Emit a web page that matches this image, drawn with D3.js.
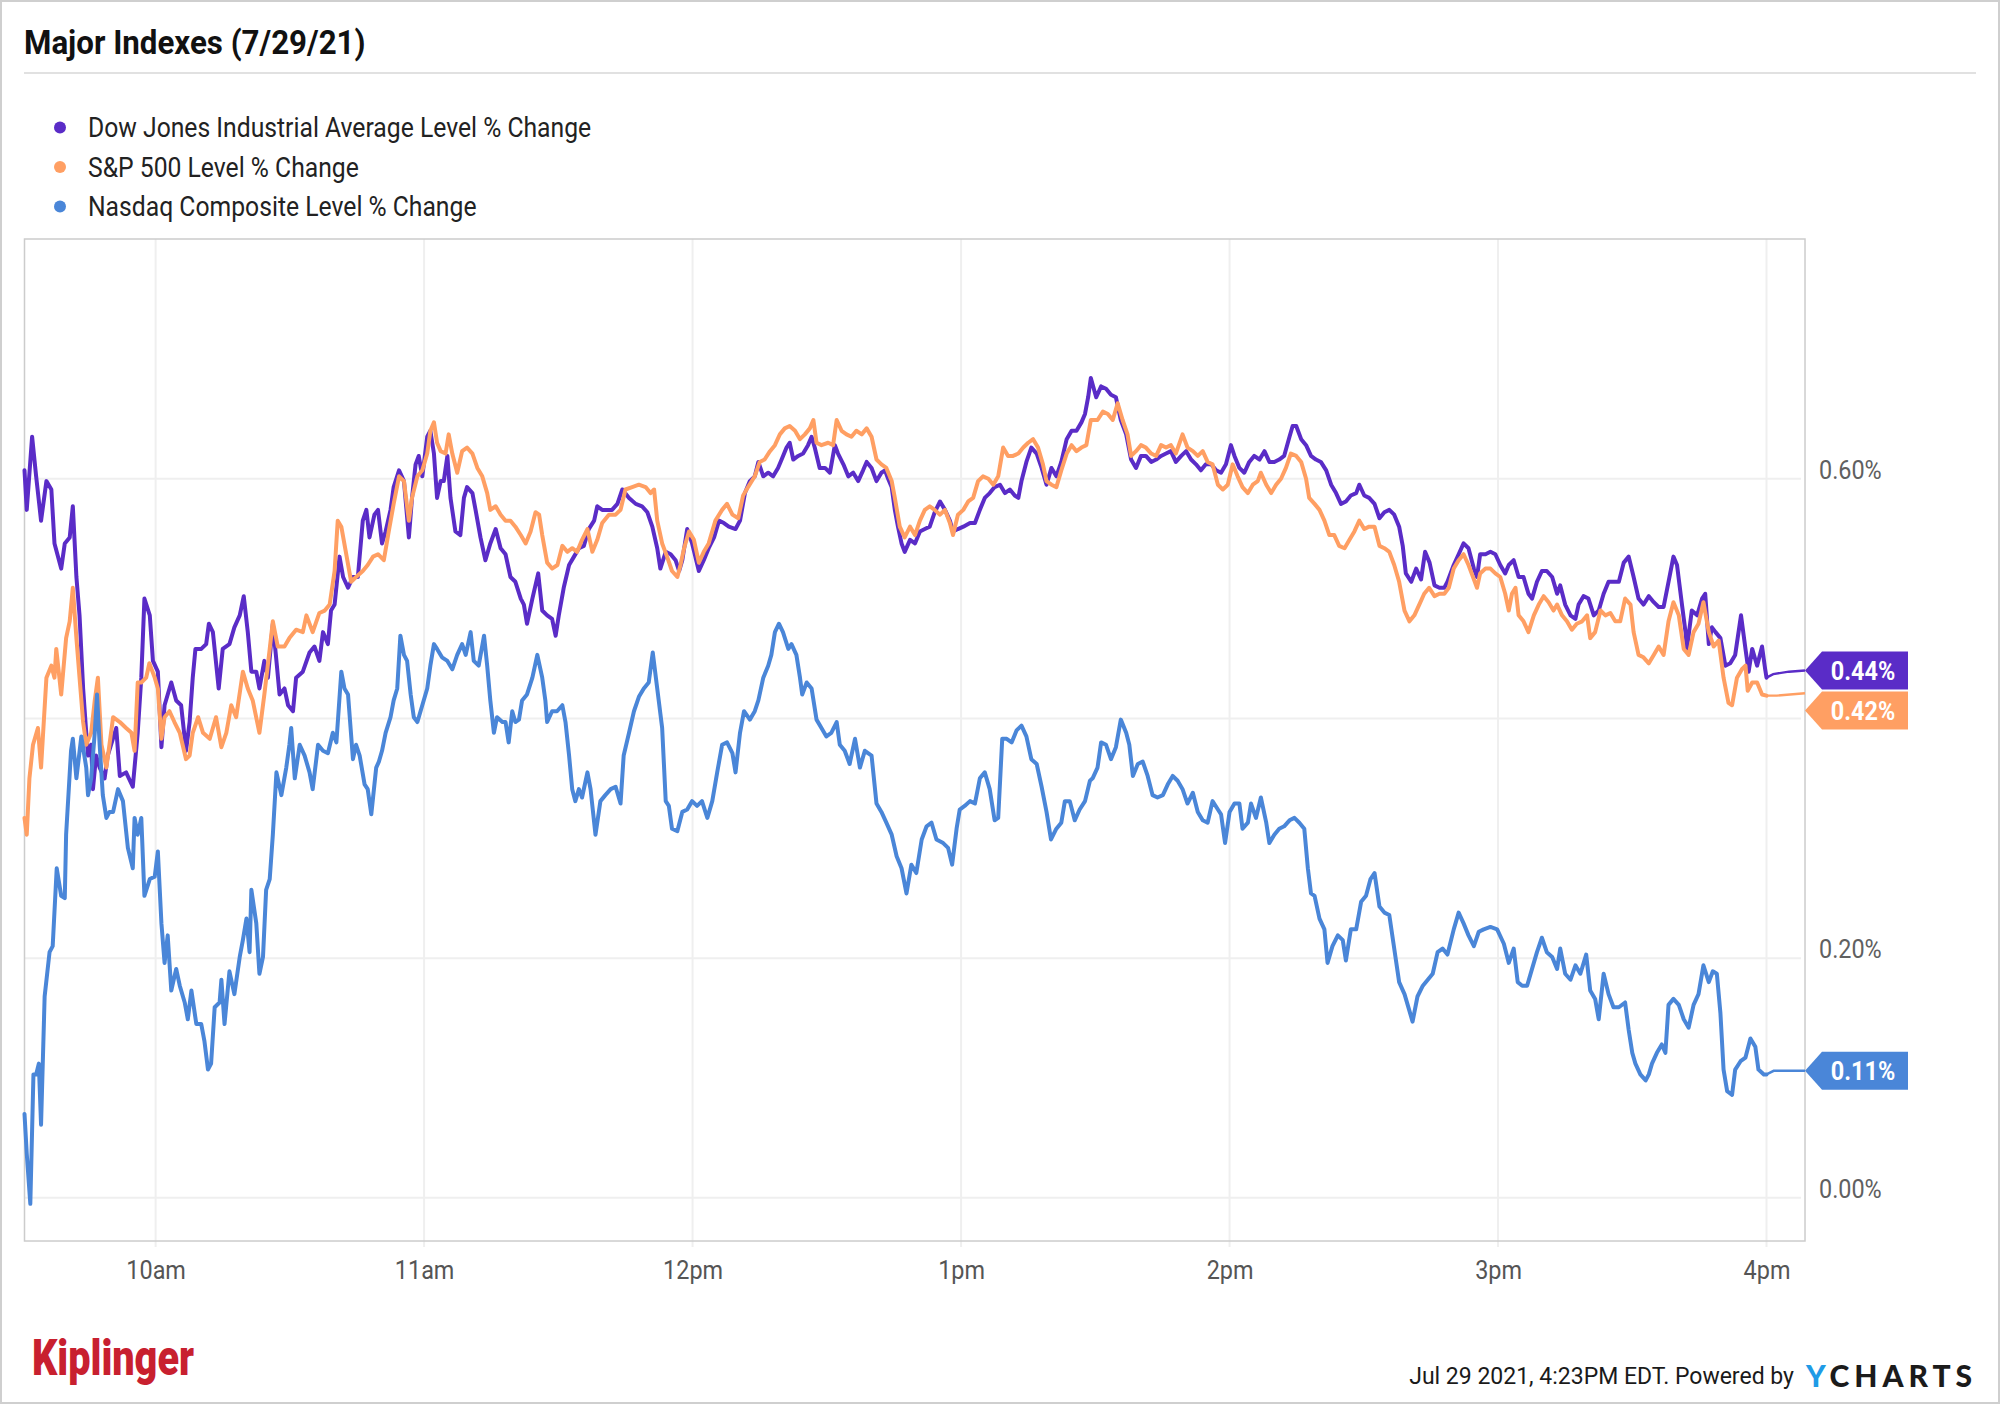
<!DOCTYPE html>
<html><head><meta charset="utf-8">
<script src="https://cdn.jsdelivr.net/npm/d3@7"></script>
<style>
html,body{margin:0;padding:0;background:#fff;}
svg{display:block;font-family:Roboto,"Noto Sans",sans-serif;}
</style></head><body>
<svg id="chart" width="2000" height="1404"></svg>
<script>
// ---------- DATA ----------
const chartTitle = "Major Indexes (7/29/21)";
const seriesNames = ["Dow Jones Industrial Average Level % Change","S&P 500 Level % Change","Nasdaq Composite Level % Change"];
const hourTickMinutes = [30, 90, 150, 210, 270, 330, 390];   // minutes after 9:30
const hourTickLabels = ["10am","11am","12pm","1pm","2pm","3pm","4pm"];
const yGridValues = [0, 0.2, 0.4, 0.6];
const yLabelValues = [0, 0.2, 0.6];
const closeMinute = 390;
const footerText = "Jul 29 2021, 4:23PM EDT. Powered by";

const dowMinutes = [0.7,1.2,2.4,3.3,4.4,5.6,6.7,7.4,8.9,9.7,10.8,11.5,12.3,13.0,13.8,14.5,14.9,15.6,16.0,16.7,17.5,18.6,19.3,21.2,22.0,23.4,24.9,26.0,26.8,27.5,28.7,29.4,30.5,31.3,32.0,33.5,34.6,35.7,36.8,37.6,38.3,38.9,40.2,41.3,41.9,42.8,44.1,45.0,46.5,47.6,48.8,49.7,50.6,51.4,52.5,53.2,54.3,55.1,56.2,57.0,57.7,58.8,59.6,60.7,61.4,62.9,64.4,65.5,66.6,67.4,68.5,69.2,70.0,71.1,71.9,73.0,74.1,75.2,76.3,77.1,77.8,78.9,79.7,
80.6,81.4,82.5,83.2,84.4,85.5,86.6,87.3,88.1,88.8,89.6,90.7,91.4,92.2,92.9,93.7,94.4,95.2,95.9,97.0,98.1,98.9,99.6,100.8,101.5,102.6,103.7,104.8,106.0,107.1,108.2,109.3,110.4,111.6,112.3,113.0,114.2,115.5,116.4,117.5,118.6,119.4,120.1,121.2,122.4,123.5,124.6,125.7,126.8,128.0,128.7,129.8,130.9,132.0,133.2,134.3,135.8,137.3,138.7,139.9,141.0,142.1,142.8,144.0,145.1,146.2,147.0,147.7,148.8,149.9,151.4,152.5,153.6,154.8,155.9,157.0,158.1,159.6,
160.6,161.7,162.8,163.9,164.7,165.8,166.9,168.0,169.1,169.9,171.0,171.7,172.5,173.6,174.7,175.8,176.6,177.3,178.4,179.6,180.7,181.8,182.5,183.7,184.8,185.9,187.0,188.1,188.9,190.0,191.1,192.2,193.0,193.7,194.5,195.2,195.9,196.7,197.4,198.6,199.7,200.8,201.9,203.0,204.1,205.3,206.4,207.5,208.2,209.3,210.5,212.0,213.1,214.2,215.3,216.4,217.5,218.7,219.8,220.9,222.0,222.8,223.5,224.6,225.7,226.9,228.0,229.1,230.2,231.3,232.4,233.6,234.7,235.8,236.9,237.7,238.4,239.0,
240.2,241.3,242.4,243.5,244.6,245.7,246.9,248.0,249.1,250.2,251.3,252.5,253.6,254.7,255.8,256.9,258.0,259.2,260.3,261.4,262.5,263.6,264.7,265.9,267.0,268.1,269.2,270.3,271.1,272.2,273.3,274.4,275.5,276.7,277.8,278.9,280.0,281.1,282.2,283.4,284.1,284.9,286.0,287.1,288.2,289.3,290.4,291.6,292.7,293.8,294.9,296.0,297.1,298.3,299.0,300.1,301.2,302.4,303.5,304.6,305.7,306.8,307.9,308.7,309.4,310.6,311.7,312.8,313.7,314.7,315.8,316.9,318.0,318.7,
320.1,321.2,322.3,323.4,324.6,325.3,326.0,327.2,328.3,329.4,330.5,331.6,332.4,333.5,334.6,335.7,336.8,337.6,338.7,339.8,340.9,342.1,343.2,343.9,345.0,346.2,347.3,348.0,349.1,350.2,351.4,352.5,353.6,354.7,355.8,357.0,358.1,359.2,360.3,361.4,362.5,363.7,364.8,365.9,367.0,368.1,369.2,370.0,371.1,371.9,372.2,373.3,374.5,375.6,376.3,377.1,377.8,378.6,379.7,380.8,381.9,383.0,384.3,385.3,386.0,386.8,387.9,389.0,389.7,390.0,391.5,395.0,398.6];
const dowValues = [0.607,0.574,0.635,0.602,0.565,0.598,0.591,0.546,0.525,0.546,0.551,0.577,0.518,0.486,0.425,0.388,0.369,0.378,0.341,0.369,0.359,0.350,0.369,0.392,0.352,0.355,0.343,0.388,0.434,0.500,0.486,0.448,0.439,0.376,0.411,0.430,0.415,0.411,0.373,0.397,0.434,0.458,0.458,0.462,0.479,0.472,0.425,0.458,0.462,0.476,0.486,0.502,0.472,0.439,0.439,0.425,0.448,0.434,0.479,0.448,0.420,0.425,0.411,0.406,0.434,0.439,0.455,0.460,0.448,0.472,0.462,0.490,0.495,0.535,0.518,0.509,0.518,0.518,0.565,0.574,0.551,0.570,0.574,
0.546,0.556,0.574,0.593,0.607,0.598,0.551,0.584,0.612,0.619,0.602,0.635,0.640,0.621,0.584,0.598,0.598,0.619,0.584,0.556,0.553,0.584,0.593,0.588,0.574,0.551,0.532,0.546,0.558,0.542,0.537,0.518,0.514,0.500,0.495,0.479,0.500,0.521,0.490,0.486,0.483,0.469,0.486,0.509,0.528,0.535,0.542,0.544,0.558,0.565,0.577,0.574,0.574,0.574,0.579,0.591,0.584,0.579,0.577,0.572,0.560,0.542,0.525,0.539,0.537,0.532,0.523,0.532,0.558,0.546,0.523,0.532,0.542,0.551,0.565,0.563,0.560,0.558,
0.565,0.588,0.598,0.602,0.614,0.602,0.605,0.602,0.609,0.616,0.626,0.630,0.616,0.619,0.621,0.628,0.635,0.626,0.609,0.609,0.605,0.628,0.621,0.612,0.602,0.605,0.598,0.607,0.614,0.609,0.598,0.605,0.607,0.600,0.593,0.574,0.560,0.546,0.539,0.549,0.546,0.556,0.558,0.560,0.572,0.581,0.574,0.565,0.556,0.558,0.560,0.563,0.563,0.574,0.584,0.588,0.593,0.595,0.588,0.591,0.586,0.584,0.598,0.614,0.626,0.621,0.609,0.595,0.609,0.602,0.614,0.633,0.640,0.640,0.647,0.654,0.668,0.684,
0.668,0.677,0.675,0.670,0.668,0.649,0.637,0.616,0.609,0.619,0.619,0.614,0.616,0.619,0.621,0.623,0.614,0.619,0.623,0.616,0.612,0.607,0.612,0.612,0.607,0.605,0.612,0.628,0.619,0.609,0.605,0.614,0.619,0.616,0.623,0.614,0.614,0.616,0.619,0.635,0.644,0.644,0.633,0.628,0.619,0.616,0.614,0.607,0.595,0.588,0.579,0.581,0.586,0.588,0.595,0.586,0.584,0.579,0.567,0.572,0.574,0.570,0.560,0.544,0.521,0.514,0.525,0.516,0.539,0.530,0.511,0.509,0.509,0.514,
0.528,0.537,0.546,0.542,0.525,0.518,0.537,0.537,0.539,0.537,0.528,0.521,0.528,0.532,0.518,0.518,0.504,0.500,0.514,0.523,0.523,0.518,0.504,0.511,0.495,0.486,0.483,0.495,0.502,0.500,0.486,0.490,0.504,0.514,0.514,0.514,0.530,0.535,0.518,0.500,0.495,0.502,0.497,0.493,0.493,0.514,0.535,0.528,0.495,0.472,0.458,0.490,0.486,0.500,0.504,0.462,0.476,0.472,0.467,0.444,0.446,0.453,0.486,0.458,0.439,0.458,0.444,0.460,0.441,0.434,0.437,0.439,0.440];

const spMinutes = [0.7,1.2,1.8,2.6,3.7,4.4,5.6,6.7,7.4,7.8,8.9,10.0,10.8,11.5,12.3,13.0,13.8,14.5,15.6,16.4,17.1,17.9,19.0,20.5,22.0,23.4,24.6,25.3,26.0,26.8,27.9,28.6,29.8,30.5,31.3,32.0,33.1,34.2,35.4,36.8,37.6,38.3,39.5,40.6,42.1,43.5,44.7,45.8,46.9,48.0,49.5,50.6,51.7,53.2,54.3,55.5,56.2,57.3,58.8,59.9,61.4,62.9,63.7,65.1,66.6,67.8,68.9,70.0,70.7,71.5,72.6,73.7,74.8,76.3,77.4,78.6,79.7,
81.0,82.1,83.2,84.4,85.5,86.6,87.3,88.5,89.6,90.7,91.4,92.2,92.9,93.7,94.8,95.5,96.3,97.4,98.5,99.6,100.8,101.9,103.0,104.1,104.8,106.0,107.1,108.2,109.3,110.4,111.6,112.7,113.8,114.9,115.7,116.4,117.5,118.6,119.8,120.9,122.0,123.1,124.2,125.3,126.5,127.6,128.7,129.8,131.3,132.8,133.9,135.0,136.5,138.0,139.5,140.6,141.4,142.1,143.2,144.3,145.4,146.6,147.3,148.1,149.2,150.3,151.4,152.5,153.6,155.1,156.6,157.7,158.9,
160.2,161.3,162.4,163.9,165.0,166.1,167.3,168.4,169.5,170.6,171.7,172.9,174.0,175.1,176.2,177.0,177.7,178.8,180.3,181.4,182.2,183.3,184.4,185.5,186.6,187.8,188.9,190.0,191.1,192.2,193.3,194.5,195.2,196.3,197.4,198.6,199.7,200.8,201.9,203.0,204.1,205.3,206.4,207.5,208.2,209.3,210.5,211.6,212.7,213.8,214.9,216.1,217.2,218.3,219.4,220.5,221.6,222.8,223.9,225.0,226.1,227.2,228.3,229.1,230.2,231.3,232.4,233.6,234.7,235.8,236.9,238.0,239.0,
240.5,241.7,242.8,243.9,245.0,246.1,247.2,248.0,249.1,250.2,251.3,252.5,253.6,254.7,255.8,256.9,258.0,259.5,260.6,261.8,262.9,264.0,265.1,266.2,267.4,268.5,269.6,270.7,271.8,272.9,274.1,275.2,276.3,277.0,278.2,279.3,280.4,281.5,282.6,283.7,284.9,286.0,287.1,287.8,289.0,290.1,291.2,292.3,293.4,294.5,295.7,296.8,297.9,299.0,300.1,301.2,302.4,303.5,304.6,305.7,306.8,307.9,309.1,310.2,311.3,312.4,313.5,314.6,315.8,316.9,318.0,
319.0,320.1,321.2,322.3,323.4,324.6,325.3,326.0,327.2,328.3,329.4,330.5,331.6,332.4,333.1,333.9,334.6,335.7,336.8,338.0,339.1,340.2,341.3,342.4,343.2,344.3,345.4,346.5,347.6,348.8,349.9,350.6,351.7,352.9,354.0,355.1,356.2,357.3,358.4,359.6,360.3,361.4,362.5,363.7,364.8,365.9,367.0,368.1,369.2,370.4,371.5,372.6,373.7,374.8,375.9,377.1,378.2,379.3,380.4,381.5,382.3,383.4,384.5,385.3,385.8,386.8,387.9,389.0,390.0,392.3,398.6];
const spValues = [0.317,0.303,0.350,0.378,0.392,0.359,0.434,0.444,0.434,0.458,0.420,0.467,0.481,0.509,0.467,0.434,0.397,0.378,0.388,0.415,0.434,0.378,0.359,0.401,0.397,0.392,0.388,0.373,0.430,0.430,0.434,0.446,0.434,0.425,0.383,0.401,0.406,0.397,0.388,0.366,0.369,0.388,0.401,0.388,0.383,0.401,0.376,0.388,0.411,0.401,0.439,0.425,0.415,0.388,0.420,0.458,0.481,0.460,0.460,0.467,0.474,0.472,0.486,0.472,0.488,0.490,0.495,0.523,0.565,0.560,0.537,0.514,0.518,0.523,0.528,0.535,0.537,
0.532,0.556,0.579,0.602,0.598,0.565,0.584,0.602,0.607,0.621,0.640,0.647,0.630,0.623,0.621,0.637,0.621,0.605,0.623,0.626,0.621,0.609,0.602,0.588,0.574,0.577,0.570,0.565,0.565,0.560,0.553,0.546,0.556,0.572,0.570,0.553,0.530,0.525,0.528,0.544,0.539,0.542,0.539,0.549,0.558,0.539,0.549,0.563,0.570,0.570,0.574,0.591,0.593,0.595,0.593,0.588,0.591,0.565,0.546,0.535,0.523,0.518,0.528,0.542,0.556,0.549,0.530,0.539,0.546,0.565,0.574,0.579,0.570,
0.567,0.586,0.593,0.602,0.614,0.616,0.623,0.628,0.637,0.642,0.644,0.640,0.633,0.637,0.642,0.649,0.630,0.628,0.630,0.628,0.649,0.640,0.637,0.635,0.640,0.637,0.642,0.635,0.616,0.612,0.609,0.598,0.584,0.560,0.551,0.560,0.553,0.565,0.574,0.577,0.574,0.570,0.574,0.563,0.553,0.570,0.574,0.581,0.584,0.598,0.602,0.600,0.595,0.602,0.626,0.619,0.619,0.621,0.626,0.630,0.633,0.626,0.612,0.598,0.595,0.593,0.607,0.621,0.628,0.623,0.626,0.628,0.649,
0.649,0.656,0.654,0.649,0.663,0.649,0.637,0.619,0.623,0.628,0.626,0.621,0.619,0.628,0.626,0.628,0.621,0.637,0.626,0.623,0.619,0.623,0.614,0.612,0.595,0.591,0.595,0.612,0.602,0.593,0.588,0.595,0.598,0.605,0.595,0.588,0.595,0.600,0.609,0.621,0.619,0.614,0.600,0.584,0.579,0.574,0.565,0.553,0.553,0.544,0.542,0.549,0.556,0.565,0.558,0.560,0.560,0.544,0.542,0.539,0.528,0.514,0.490,0.481,0.486,0.495,0.504,0.509,0.502,0.504,0.504,
0.509,0.525,0.532,0.537,0.528,0.516,0.509,0.521,0.525,0.525,0.521,0.518,0.504,0.490,0.504,0.509,0.486,0.481,0.472,0.486,0.495,0.502,0.497,0.490,0.495,0.486,0.481,0.474,0.479,0.481,0.486,0.467,0.472,0.490,0.486,0.488,0.481,0.481,0.500,0.495,0.472,0.453,0.451,0.446,0.453,0.460,0.453,0.481,0.497,0.486,0.458,0.453,0.472,0.479,0.497,0.472,0.460,0.465,0.434,0.413,0.411,0.434,0.441,0.444,0.423,0.430,0.430,0.420,0.419,0.419,0.421];

const nasdaqMinutes = [0.7,1.2,2.0,2.7,3.3,3.9,4.4,5.2,6.3,7.0,7.9,8.9,9.7,10.0,11.1,11.5,12.3,13.4,14.5,14.9,15.6,16.4,16.9,17.5,18.2,19.0,19.7,20.5,21.6,22.7,23.8,24.9,25.3,26.0,26.8,27.5,28.7,29.8,30.5,31.3,32.0,32.7,33.5,34.6,35.4,36.5,37.2,38.0,39.1,40.2,40.9,41.7,42.4,43.2,44.3,44.7,45.4,46.5,47.6,48.8,49.5,50.3,51.0,51.4,52.5,53.2,54.0,54.7,55.5,56.2,57.0,58.1,59.2,59.9,60.3,61.1,62.2,63.3,64.4,65.1,66.3,67.4,68.5,69.6,70.4,71.5,72.2,73.0,74.1,74.8,75.6,76.7,77.4,78.2,79.3,
79.9,80.6,81.4,82.5,83.2,84.0,84.7,85.5,86.2,87.0,87.7,88.5,89.6,90.7,91.4,92.2,92.9,94.0,95.2,96.3,97.4,98.5,99.3,100.4,101.1,102.2,103.4,104.1,104.8,105.6,106.3,107.5,108.2,108.9,109.7,110.4,111.2,111.9,113.0,114.2,115.3,116.4,117.1,117.5,118.6,119.7,120.9,121.6,122.4,123.1,123.8,124.6,125.3,126.5,127.2,128.3,129.4,130.5,131.7,132.8,133.9,134.6,135.8,136.9,138.0,139.1,140.2,141.1,142.1,143.2,144.0,144.7,145.4,146.6,147.7,148.8,149.9,151.0,152.1,153.3,154.4,155.5,156.6,157.7,158.9,
159.6,160.6,161.5,162.8,163.9,164.7,165.8,166.9,167.6,168.4,169.3,170.2,171.4,172.1,173.2,174.0,174.5,175.5,176.6,177.7,178.8,179.9,181.0,182.2,182.9,184.0,185.1,186.3,187.4,188.5,190.0,191.1,192.2,193.3,194.5,195.6,196.7,197.8,198.9,200.0,201.2,202.3,203.4,204.5,206.0,207.1,208.0,209.0,209.7,210.8,212.0,213.1,214.2,215.3,216.4,217.5,218.3,219.2,220.2,221.3,222.4,223.5,224.6,225.7,226.9,228.0,229.1,230.1,231.3,232.4,233.2,234.3,235.4,236.5,237.7,238.8,
239.4,240.5,241.3,242.4,243.5,244.6,245.7,246.9,247.6,248.4,249.5,250.6,251.7,252.8,253.9,255.1,256.2,257.3,258.4,259.5,260.6,261.8,262.9,264.0,265.1,266.2,267.4,268.1,269.0,270.0,271.1,272.2,272.9,274.1,274.8,275.9,277.0,278.2,278.9,280.0,281.1,282.2,283.4,284.5,285.6,286.7,287.5,288.2,289.0,290.1,291.2,291.9,293.0,294.2,295.3,296.0,297.1,298.3,299.4,300.5,301.5,302.4,303.5,304.6,305.7,306.8,307.9,309.1,310.2,310.9,312.0,313.2,314.3,315.4,316.5,317.6,318.7,
320.1,321.2,322.3,323.4,324.6,325.7,326.8,328.3,329.8,331.3,332.4,333.5,334.4,335.4,336.5,337.6,338.7,339.8,340.9,342.1,343.2,343.9,345.0,346.2,347.3,348.4,349.7,350.6,351.7,352.5,353.6,354.7,355.8,357.0,358.4,359.2,360.0,360.7,361.8,363.0,363.7,364.4,365.5,366.6,367.4,368.1,369.2,370.4,371.5,372.6,373.7,374.8,375.9,377.1,378.0,378.9,379.7,380.4,381.2,382.3,383.0,384.2,385.3,386.4,387.5,388.2,389.4,390.0,391.6,398.6];
const nasdaqValues = [0.070,0.037,-0.005,0.103,0.103,0.112,0.061,0.168,0.205,0.210,0.275,0.252,0.250,0.303,0.373,0.383,0.350,0.385,0.359,0.336,0.350,0.388,0.420,0.378,0.336,0.317,0.322,0.322,0.341,0.331,0.292,0.275,0.317,0.303,0.317,0.252,0.266,0.268,0.289,0.229,0.196,0.219,0.173,0.191,0.177,0.163,0.149,0.173,0.145,0.145,0.131,0.107,0.112,0.159,0.163,0.182,0.145,0.189,0.170,0.201,0.215,0.233,0.205,0.257,0.229,0.187,0.201,0.257,0.266,0.303,0.355,0.336,0.359,0.378,0.392,0.350,0.378,0.369,0.355,0.341,0.378,0.373,0.371,0.388,0.380,0.439,0.425,0.420,0.366,0.378,0.369,0.345,0.341,0.320,0.359,
0.364,0.373,0.388,0.401,0.415,0.425,0.469,0.453,0.448,0.420,0.401,0.397,0.411,0.425,0.444,0.462,0.458,0.451,0.448,0.441,0.453,0.462,0.453,0.472,0.448,0.444,0.469,0.444,0.415,0.388,0.401,0.397,0.397,0.380,0.406,0.397,0.399,0.415,0.420,0.434,0.453,0.434,0.415,0.397,0.406,0.406,0.411,0.397,0.369,0.341,0.331,0.341,0.334,0.355,0.341,0.303,0.331,0.336,0.341,0.343,0.329,0.369,0.388,0.406,0.418,0.425,0.430,0.455,0.425,0.392,0.331,0.327,0.308,0.306,0.322,0.324,0.331,0.327,0.331,0.317,0.331,0.355,0.378,0.380,0.371,
0.355,0.388,0.406,0.399,0.406,0.415,0.434,0.444,0.453,0.472,0.479,0.472,0.458,0.462,0.453,0.434,0.420,0.430,0.425,0.399,0.392,0.385,0.388,0.397,0.378,0.373,0.362,0.383,0.359,0.373,0.369,0.329,0.322,0.313,0.303,0.285,0.275,0.254,0.278,0.271,0.299,0.310,0.313,0.299,0.296,0.292,0.278,0.308,0.324,0.327,0.331,0.329,0.350,0.355,0.341,0.315,0.317,0.383,0.383,0.380,0.390,0.394,0.385,0.366,0.362,0.343,0.322,0.299,0.308,0.313,0.331,0.331,0.315,0.324,0.331,0.348,
0.350,0.359,0.380,0.378,0.366,0.376,0.399,0.388,0.378,0.352,0.362,0.364,0.352,0.336,0.334,0.336,0.345,0.352,0.348,0.341,0.329,0.338,0.322,0.315,0.313,0.331,0.324,0.320,0.296,0.322,0.329,0.329,0.308,0.313,0.329,0.317,0.334,0.313,0.296,0.303,0.308,0.310,0.315,0.317,0.313,0.308,0.275,0.254,0.252,0.233,0.224,0.196,0.210,0.219,0.215,0.198,0.224,0.224,0.247,0.252,0.266,0.271,0.243,0.238,0.236,0.208,0.180,0.170,0.156,0.147,0.168,0.177,0.182,0.187,0.205,0.208,0.203,
0.224,0.238,0.229,0.219,0.210,0.222,0.224,0.226,0.224,0.212,0.196,0.208,0.180,0.177,0.177,0.191,0.205,0.217,0.205,0.201,0.191,0.208,0.187,0.182,0.194,0.187,0.203,0.173,0.166,0.149,0.187,0.170,0.159,0.159,0.163,0.140,0.121,0.112,0.103,0.098,0.103,0.112,0.121,0.128,0.121,0.161,0.166,0.161,0.149,0.142,0.161,0.170,0.194,0.180,0.189,0.187,0.154,0.107,0.089,0.086,0.107,0.114,0.117,0.133,0.126,0.107,0.103,0.103,0.106,0.106];

// ---------- STYLE ----------
const colors = ["#5a2cc7", "#ff9f63", "#4a86d8"];
const W = 2000, H = 1404;
const plot = {left: 24.5, right: 1805, top: 239, bottom: 1241};

const svg = d3.select("#chart");

// squeeze text horizontally to imitate a condensed face
function condense(sel, f) {
  sel.each(function(){
    const w = this.getComputedTextLength();
    d3.select(this).attr("textLength", w*f).attr("lengthAdjust","spacingAndGlyphs");
  });
}

// outer border
svg.append("rect").attr("x",1).attr("y",1).attr("width",W-2).attr("height",H-2)
  .attr("fill","#fff").attr("stroke","#cfcfcf").attr("stroke-width",2);

// title
svg.append("text").attr("x",24).attr("y",54).attr("font-size",34).attr("font-weight",700)
  .attr("fill","#111").text(chartTitle).call(condense, 0.92);
svg.append("line").attr("x1",24).attr("x2",1976).attr("y1",73).attr("y2",73)
  .attr("stroke","#e1e1e1").attr("stroke-width",2);

// legend
const legend = svg.append("g");
seriesNames.forEach((name,i)=>{
  const cy = 127.5 + i*39.5;
  legend.append("circle").attr("cx",60).attr("cy",cy).attr("r",6).attr("fill",colors[i]);
  legend.append("text").attr("x",88).attr("y",cy).attr("dy","0.36em").attr("font-size",27)
    .attr("fill","#222").text(name).call(condense, 0.915);
});

// scales
const x = d3.scaleLinear().domain([0.7, 398.6]).range([plot.left, plot.right]);
const y = d3.scaleLinear().domain([-0.036, 0.8]).range([plot.bottom, plot.top]);

// grid
const grid = svg.append("g");
grid.selectAll(".vg").data(hourTickMinutes).enter().append("line")
  .attr("x1",d=>x(d)).attr("x2",d=>x(d)).attr("y1",plot.top).attr("y2",plot.bottom+6)
  .attr("stroke","#efefef").attr("stroke-width",2);
grid.selectAll(".hg").data(yGridValues).enter().append("line")
  .attr("x1",plot.left).attr("x2",plot.right-4).attr("y1",d=>y(d)).attr("y2",d=>y(d))
  .attr("stroke","#efefef").attr("stroke-width",2);

// frame
svg.append("rect").attr("x",plot.left).attr("y",plot.top)
  .attr("width",plot.right-plot.left).attr("height",plot.bottom-plot.top)
  .attr("fill","none").attr("stroke","#cccccc").attr("stroke-width",1.5);

// x axis labels
const xAxis = d3.axisBottom(x).tickValues(hourTickMinutes)
  .tickFormat((d,i)=>hourTickLabels[i]).tickSize(0).tickPadding(0);
const gx = svg.append("g").attr("transform",`translate(0,${plot.bottom})`).call(xAxis);
gx.select(".domain").remove();
gx.selectAll("text").attr("font-size",26).attr("fill","#555").attr("font-family","Roboto")
  .attr("y",29).attr("dy","0.36em").call(condense, 0.9);

// y axis labels (right)
const yAxis = d3.axisRight(y).tickValues(yLabelValues)
  .tickFormat(d=>d3.format(".2f")(d)+"%").tickSize(0).tickPadding(0);
const gy = svg.append("g").attr("transform",`translate(${plot.right+14},0)`).call(yAxis);
gy.select(".domain").remove();
gy.selectAll("text").attr("font-size",26).attr("fill","#606060").attr("font-family","Roboto")
  .attr("y",-10).attr("dy","0.36em").call(condense, 0.9);

// lines
const series = [
  {m:dowMinutes, v:dowValues},
  {m:spMinutes, v:spValues},
  {m:nasdaqMinutes, v:nasdaqValues}
].map(s=>s.m.map((t,i)=>({t, v:s.v[i]})));

const line = d3.line().x(d=>x(d.t)).y(d=>y(d.v));
const lines = svg.append("g");
series.forEach((pts,i)=>{
  const day = pts.filter(d=>d.t<=closeMinute);
  const after = pts.filter(d=>d.t>=closeMinute);
  lines.append("path").attr("d",line(day)).attr("fill","none").attr("stroke",colors[i])
    .attr("stroke-width",4).attr("stroke-linejoin","round").attr("stroke-linecap","round");
  lines.append("path").attr("d",line(after)).attr("fill","none").attr("stroke",colors[i])
    .attr("stroke-width",2.4);
});

// end-value badges
const bh = 38;
let prevBottom = -Infinity;
const badges = series.map((pts,i)=>({i, v:pts[pts.length-1].v, y:y(pts[pts.length-1].v)}))
  .sort((a,b)=>a.y-b.y);
badges.forEach(b=>{
  let cy = b.y;
  if (cy - bh/2 < prevBottom + 2) cy = prevBottom + 2 + bh/2;
  prevBottom = cy + bh/2;
  const tip = plot.right, bx = plot.right+17, rx = plot.right+103;
  svg.append("path")
    .attr("d",`M${tip},${cy} L${bx},${cy-bh/2} L${rx},${cy-bh/2} L${rx},${cy+bh/2} L${bx},${cy+bh/2} Z`)
    .attr("fill",colors[b.i]);
  svg.append("text").attr("x",(bx+rx)/2-2).attr("y",cy).attr("dy","0.36em")
    .attr("text-anchor","middle").attr("font-size",26).attr("font-weight",700)
    .attr("fill","#fff").text(d3.format(".2f")(b.v)+"%").call(condense, 0.9);
});

// footer
svg.append("text").attr("x",32).attr("y",1375).attr("font-size",50).attr("font-weight",900)
  .attr("fill","#c8202f").attr("textLength",162).attr("lengthAdjust","spacingAndGlyphs")
  .attr("font-family","Roboto").text("Kiplinger");
svg.append("text").attr("x",1794).attr("y",1376).attr("dy","0.36em").attr("text-anchor","end")
  .attr("font-size",23).attr("fill","#1a1a1a").text(footerText);
const yc = svg.append("text").attr("x",1806).attr("y",1376).attr("dy","0.36em")
  .attr("font-size",30).attr("font-weight",900).attr("font-family","Lato, Roboto")
  .attr("letter-spacing",5);
yc.append("tspan").attr("fill","#1f9be6").text("Y");
yc.append("tspan").attr("fill","#1b1b1b").text("CHARTS");
</script>
</body></html>
